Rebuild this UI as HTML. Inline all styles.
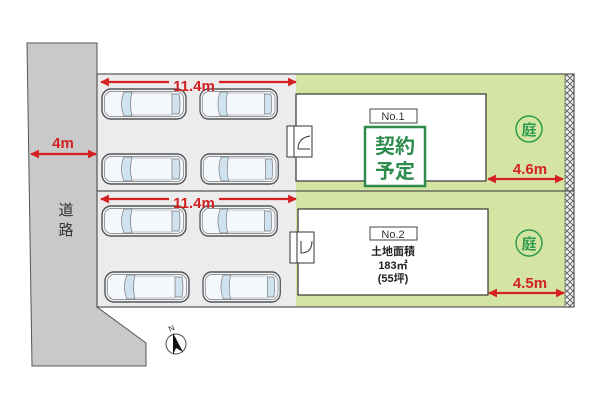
<!DOCTYPE html>
<html><head><meta charset="utf-8"><style>
html,body{margin:0;padding:0;background:#fff}
svg{display:block}
text{font-family:"Liberation Sans","Noto Sans CJK JP",sans-serif}
</style></head><body>
<svg width="600" height="408" viewBox="0 0 600 408" xmlns="http://www.w3.org/2000/svg">
<defs>
<pattern id="hatch" width="6" height="6" patternUnits="userSpaceOnUse">
<rect width="6" height="6" fill="#eee"/>
<path d="M0 0L6 6M6 0L0 6" stroke="#555" stroke-width="0.8"/>
</pattern>
<g id="car">
<rect x="0" y="0" width="84" height="30" rx="9" fill="#eef2f7" stroke="#555" stroke-width="1.4"/>
<rect x="2.5" y="2.5" width="79" height="25" rx="7" fill="#f4f7fb" stroke="#777" stroke-width="0.7"/>
<path d="M22 3 Q17 15 22 27 L30 27 Q27 15 30 3Z" fill="#cfe2f0" stroke="#777" stroke-width="0.7"/>
<path d="M70 5 L77 5 Q79 15 77 25 L70 25Z" fill="#cfe2f0" stroke="#777" stroke-width="0.7"/>
<line x1="30" y1="4" x2="70" y2="4" stroke="#888" stroke-width="0.6"/>
<line x1="30" y1="26" x2="70" y2="26" stroke="#888" stroke-width="0.6"/>
</g>
<marker id="ah" viewBox="0 0 10 10" refX="9" refY="5" markerWidth="4" markerHeight="4" orient="auto-start-reverse"><path d="M0 0L10 5L0 10Z" fill="#d42020"/></marker>
</defs>
<path d="M27 43 L97 43 L97 307 L146 343 L146 366 L32 366 Z" fill="#c9c9c9" stroke="#555" stroke-width="1"/>
<text x="66" y="215" font-size="15" text-anchor="middle" fill="#333">道</text>
<text x="66" y="235" font-size="15" text-anchor="middle" fill="#333">路</text>
<rect x="97" y="74" width="199" height="233" fill="#ececec"/>
<rect x="296" y="74" width="269" height="233" fill="#d4e4a3"/>
<rect x="565" y="74" width="9" height="233" fill="url(#hatch)" stroke="#555" stroke-width="0.6"/>
<rect x="97" y="74" width="477" height="233" fill="none" stroke="#555" stroke-width="1.2"/>
<line x1="97" y1="191" x2="574" y2="191" stroke="#555" stroke-width="1.2"/>
<rect x="296" y="94" width="190" height="87" fill="#fff" stroke="#333" stroke-width="1.2"/>
<rect x="298" y="209" width="190" height="86" fill="#fff" stroke="#333" stroke-width="1.2"/>
<rect x="287" y="126" width="25" height="31" fill="#fff" stroke="#333"/>
<line x1="294" y1="126" x2="294" y2="157" stroke="#333"/>
<path d="M298 149 L310 149 M298 149 Q298 138 310 136" fill="none" stroke="#333"/>
<rect x="290" y="232" width="24" height="31" fill="#fff" stroke="#333"/>
<line x1="297" y1="232" x2="297" y2="263" stroke="#333"/>
<path d="M301 241 L301 253 Q312 253 312 241" fill="none" stroke="#333"/>
<rect x="370" y="109" width="47" height="14" fill="#fff" stroke="#444"/>
<text x="393" y="120" font-size="11" text-anchor="middle" fill="#333">No.1</text>
<rect x="365" y="127" width="60" height="59" fill="#fff" stroke="#2e8b4e" stroke-width="2.5"/>
<text x="395" y="153" font-size="20" font-weight="bold" text-anchor="middle" fill="#2e8b4e">契約</text>
<text x="395" y="178" font-size="20" font-weight="bold" text-anchor="middle" fill="#2e8b4e">予定</text>
<rect x="370" y="227" width="47" height="13" fill="#fff" stroke="#444"/>
<text x="393" y="238" font-size="11" text-anchor="middle" fill="#333">No.2</text>
<text x="393" y="255" font-size="11" font-weight="bold" text-anchor="middle" fill="#222">土地面積</text>
<text x="393" y="269" font-size="11" font-weight="bold" text-anchor="middle" fill="#222">183㎡</text>
<text x="393" y="282" font-size="11" font-weight="bold" text-anchor="middle" fill="#222">(55坪)</text>
<circle cx="529" cy="129" r="13" fill="none" stroke="#2e9b4e" stroke-width="1.5"/>
<text x="529" y="135" font-size="15" font-weight="bold" text-anchor="middle" fill="#2e9b4e">庭</text>
<circle cx="529" cy="243" r="13" fill="none" stroke="#2e9b4e" stroke-width="1.5"/>
<text x="529" y="249" font-size="15" font-weight="bold" text-anchor="middle" fill="#2e9b4e">庭</text>
<use href="#car" transform="translate(102,89)"/>
<use href="#car" transform="translate(200,89) scale(0.92,1)"/>
<use href="#car" transform="translate(102,154)"/>
<use href="#car" transform="translate(201,154) scale(0.92,1)"/>
<use href="#car" transform="translate(102,206)"/>
<use href="#car" transform="translate(200,206) scale(0.92,1)"/>
<use href="#car" transform="translate(105,272)"/>
<use href="#car" transform="translate(203,272) scale(0.92,1)"/>
<g stroke="#d42020" stroke-width="2.2" fill="none">
<line x1="101" y1="82" x2="296" y2="82" marker-start="url(#ah)" marker-end="url(#ah)"/>
<line x1="101" y1="199" x2="296" y2="199" marker-start="url(#ah)" marker-end="url(#ah)"/>
<line x1="31" y1="154" x2="96" y2="154" marker-start="url(#ah)" marker-end="url(#ah)"/>
<line x1="488" y1="179" x2="563" y2="179" marker-start="url(#ah)" marker-end="url(#ah)"/>
<line x1="489" y1="293" x2="564" y2="293" marker-start="url(#ah)" marker-end="url(#ah)"/>
</g>
<g font-size="15" font-weight="bold" fill="#d42020" text-anchor="middle">
<rect x="169" y="76" width="50" height="12" fill="#ececec"/>
<rect x="169" y="193" width="50" height="12" fill="#ececec"/>
<text x="194" y="91">11.4m</text>
<text x="194" y="208">11.4m</text>
<text x="63" y="148">4m</text>
<text x="530" y="174">4.6m</text>
<text x="530" y="288">4.5m</text>
</g>
<circle cx="176" cy="344" r="10" fill="#fff" stroke="#444"/>
<path d="M173 333 L183 352 L176 348 L173 355Z" fill="#111"/>
<text x="170" y="332" font-size="8" fill="#333" transform="rotate(-25 170 332)">N</text>
</svg>
</body></html>
